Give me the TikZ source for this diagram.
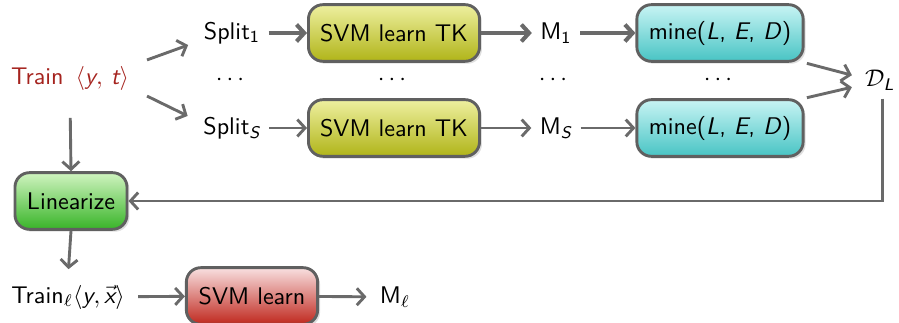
\documentclass[tikz,border=0pt]{standalone}
\usepackage{amsmath}
\usetikzlibrary{shadows,arrows.meta}
\renewcommand{\familydefault}{\sfdefault}
\definecolor{trainred}{RGB}{165,35,30}
\definecolor{linegray}{RGB}{106,106,106}
\definecolor{boxgray}{RGB}{96,96,96}
\definecolor{yeltop}{RGB}{238,240,160}
\definecolor{yelbot}{RGB}{176,180,24}
\definecolor{cyatop}{RGB}{200,244,244}
\definecolor{cyabot}{RGB}{72,196,196}
\definecolor{gretop}{RGB}{208,244,192}
\definecolor{grebot}{RGB}{56,180,40}
\definecolor{redtop}{RGB}{248,224,224}
\definecolor{redbot}{RGB}{192,40,30}
\newcommand{\sv}[1]{\textsl{#1}}
\begin{document}
\begin{tikzpicture}[x=0.415pt,y=-0.415pt,
    box/.style={draw=boxgray,line width=1.2pt,rounded corners=6pt,
        minimum height=23.5pt,
        drop shadow={opacity=0.25,shadow xshift=1pt,shadow yshift=-1pt}},
    svmbox/.style={box,minimum width=71pt,top color=yeltop,bottom color=yelbot},
    minebox/.style={box,minimum width=69pt,top color=cyatop,bottom color=cyabot},
    linbox/.style={box,minimum width=46.5pt,top color=gretop,bottom color=grebot},
    learnbox/.style={box,minimum width=54.5pt,top color=redtop,bottom color=redbot},
    arr/.style={-{Straight Barb[length=3.2pt,width=7pt]},draw=linegray,line width=1.2pt},
    bigarr/.style={arr,line width=1.7pt}]
    \useasboundingbox (0,0) rectangle (899,323);
    % inputs
    \node[text=trainred] (train) at (70,78) {Train\, $\langle \sv{y},\, \sv{t}\rangle$};
    \node (split1) at (232,33) {Split$_{\mathsf{1}}$};
    \node (splitS) at (232,128) {Split$_{\sv{S}}$};
    % learning
    \node[svmbox] (svm1) at (394,33) {SVM learn TK};
    \node[svmbox] (svmS) at (394,128) {SVM learn TK};
    \node (m1) at (556,33) {M$_{\mathsf{1}}$};
    \node (mS) at (556,128) {M$_{\sv{S}}$};
    % mining
    \node[minebox] (mine1) at (720,33) {mine(\sv{L}, \sv{E}, \sv{D})};
    \node[minebox] (mineS) at (720,128) {mine(\sv{L}, \sv{E}, \sv{D})};
    \node (dl) at (880,80) {$\mathcal{D}_{\sv{L}}$};
    \foreach \x/\n in {232/a,394/b,555/c,720/d}
        \node (dots\n) at (\x,80) {$\cdots$};
    % linear model
    \node[linbox] (lin) at (71,201) {Linearize};
    \node (trainl) at (68,297) {Train$_\ell\langle \sv{y}, \vec{\sv{x}}\rangle$};
    \node[learnbox] (svml) at (252,296) {SVM learn};
    \node (ml) at (395,297) {M$_\ell$};

    \draw[arr] ([xshift=4pt,yshift=7.5pt]train.east) -- ([xshift=-3pt,yshift=-5pt]split1.west);
    \draw[arr] ([xshift=4pt,yshift=-7.5pt]train.east) -- ([xshift=-3pt,yshift=5pt]splitS.west);
    \draw[bigarr] (split1) -- (svm1);
    \draw[bigarr] (svm1) -- (m1);
    \draw[bigarr] (m1) -- (mine1);
    \draw[arr] (splitS) -- (svmS);
    \draw[arr] (svmS) -- (mS);
    \draw[arr] (mS) -- (mineS);
    \draw[arr,shorten <=1pt] (mine1.south east) -- ([xshift=-2pt,yshift=2pt]dl.west);
    \draw[arr,shorten <=1pt] (mineS.north east) -- ([xshift=-2pt,yshift=-3pt]dl.west);
    \draw[arr] ([xshift=1pt]dl.south) |- (lin.east);
    \draw[arr,shorten <=8pt] (train.south) -- (lin.north);
    \draw[arr,shorten >=3pt] (lin.south) -- (trainl.north);
    \draw[arr,shorten <=2pt] (trainl) -- (svml);
    \draw[arr,shorten >=2pt] (svml) -- (ml);
\end{tikzpicture}
\end{document}
